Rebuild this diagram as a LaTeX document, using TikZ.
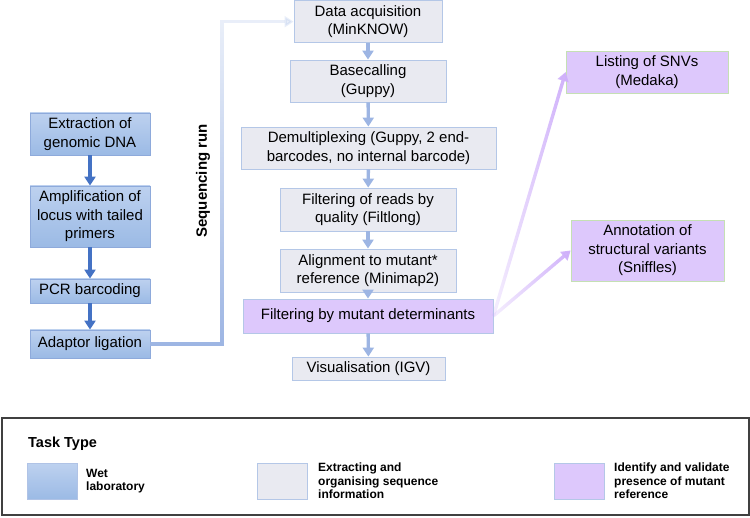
\documentclass[tikz,border=0pt]{standalone}
\usepackage{fontspec}
\setmainfont{Liberation Sans}
\usepackage{tikz}
\usetikzlibrary{arrows.meta}
\usetikzlibrary{fadings}
\definecolor{wettop}{HTML}{BDD1EF}
\definecolor{wetbottom}{HTML}{9BBAE5}
\definecolor{wetedge}{HTML}{8EAADB}
\definecolor{wetarrow}{HTML}{4472C4}
\definecolor{seqgray}{HTML}{E9EAF1}
\definecolor{seqedge}{HTML}{B4C7E7}
\definecolor{seqarrow}{HTML}{9DB5E3}
\definecolor{mutpurple}{HTML}{DDC8FC}
\definecolor{mutedge}{HTML}{C5E0B4}
\definecolor{mutarrow}{HTML}{CFB0FA}
\definecolor{legendedge}{HTML}{404040}
\tikzfading[name=fadeup, top color=transparent!78, bottom color=transparent!0]
\tikzfading[name=faderight, left color=transparent!80, right color=transparent!0]
\tikzset{
    box/.style={
        draw, line width=0.8pt, align=center, inner sep=1pt,
        font=\fontsize{15}{18.5}\selectfont
    },
    wetbox/.style={box, draw=wetedge, top color=wettop, bottom color=wetbottom, minimum width=120},
    seqbox/.style={box, draw=seqedge, fill=seqgray},
    mutbox/.style={box, draw=#1, fill=mutpurple},
    mutbox/.default=seqedge,
    wetflow/.style={draw=wetarrow, line width=3.4pt, -{Triangle[width=11pt,length=9pt]}},
    seqflow/.style={draw=seqarrow, line width=3.4pt, -{Triangle[width=11pt,length=9pt]}},
    mutflow/.style={draw=mutarrow, line width=3.4pt, -{Triangle[width=11pt,length=9pt]}},
    legendtitle/.style={font=\fontsize{14.5}{16}\selectfont\bfseries, inner sep=0pt},
    legendtext/.style={font=\fontsize{12}{13.5}\selectfont\bfseries, align=left, inner sep=0pt},
    swatch/.style={draw=#1, line width=0.8pt, minimum width=50, minimum height=36, inner sep=0pt}
}
\newcommand{\legendItem}[5] {
	\node[swatch=seqedge, #3, anchor=north west] (#1) at (#2,463) {};
	\node[legendtext, anchor=west] (#1text) at (#4,481) {#5};
}

\begin{document}
\begin{tikzpicture}[x=1pt, y=-1pt]
		\useasboundingbox (0,0) rectangle (750,518);

		% wet laboratory
		\node[wetbox, minimum height=42] (extract) at (90,134) {Extraction of\\genomic DNA};
		\node[wetbox, minimum height=61] (amplify) at (90,216.5) {Amplification of\\locus with tailed\\primers};
		\node[wetbox, minimum height=24] (pcr) at (90,291) {PCR barcoding};
		\node[wetbox, minimum height=28] (adaptor) at (90,344) {Adaptor ligation};
		\draw[wetflow] (extract) -- (amplify);
		\draw[wetflow] (amplify) -- (pcr);
		\draw[wetflow] (pcr) -- (adaptor);

		% sequence information
		\node[seqbox, minimum width=148, minimum height=42] (acquis) at (368,21.5) {Data acquisition\\(MinKNOW)};
		\node[seqbox, minimum width=156, minimum height=42] (basecall) at (368,81) {Basecalling\\(Guppy)};
		\node[seqbox, minimum width=255, minimum height=42] (demux) at (368.5,148) {Demultiplexing (Guppy, 2 end-\\barcodes, no internal barcode)};
		\node[seqbox, minimum width=176, minimum height=43] (filtlong) at (368,209.5) {Filtering of reads by\\quality (Filtlong)};
		\node[seqbox, minimum width=176, minimum height=43] (align) at (368,270.5) {Alignment to mutant*\\reference (Minimap2)};
		\node[mutbox, minimum width=250, minimum height=34] (mutfilt) at (368,316) {Filtering by mutant determinants};
		\node[seqbox, minimum width=153, minimum height=23] (visual) at (368.5,368.5) {Visualisation (IGV)};
		\draw[seqflow] (acquis) -- (basecall);
		\draw[seqflow] (basecall) -- (demux);
		\draw[seqflow] (demux) -- (filtlong);
		\draw[seqflow] (filtlong) -- (align);
		\draw[seqflow] (align) -- (mutfilt);
		\draw[seqflow] (mutfilt) -- (visual);

		% sequencing run
		\coordinate (seqtop) at (222,21.5);
		\draw[seqflow, path fading=fadeup] (adaptor.east) -| (seqtop) -- (acquis.west);
		\node[rotate=90, font=\fontsize{15}{18}\selectfont\bfseries] (seqrun) at (203,181) {Sequencing run};

		% mutant reference
		\node[mutbox=mutedge, minimum width=162, minimum height=42] (snv) at (647,72) {Listing of SNVs\\(Medaka)};
		\node[mutbox=mutedge, minimum width=153, minimum height=61] (sv) at (647.5,250.5) {Annotation of\\structural variants\\(Sniffles)};
		\draw[mutflow, path fading=faderight] (mutfilt.east) -- (snv.west);
		\draw[mutflow, path fading=faderight] (mutfilt.east) -- (sv.west);

		% legend
		\draw[draw=legendedge, line width=1.6pt] (2,418) rectangle (749,515);
		\node[legendtitle, anchor=west] (tasktype) at (28,444) {Task Type};
		\legendItem{legwet}{27}{top color=wettop, bottom color=wetbottom, draw=wetedge!70}{86}{Wet\\laboratory}
		\legendItem{legseq}{257}{fill=seqgray}{318}{Extracting and\\organising sequence\\information}
		\legendItem{legmut}{554}{fill=mutpurple}{614}{Identify and validate\\presence of mutant\\reference}

	\end{tikzpicture}
\end{document}
